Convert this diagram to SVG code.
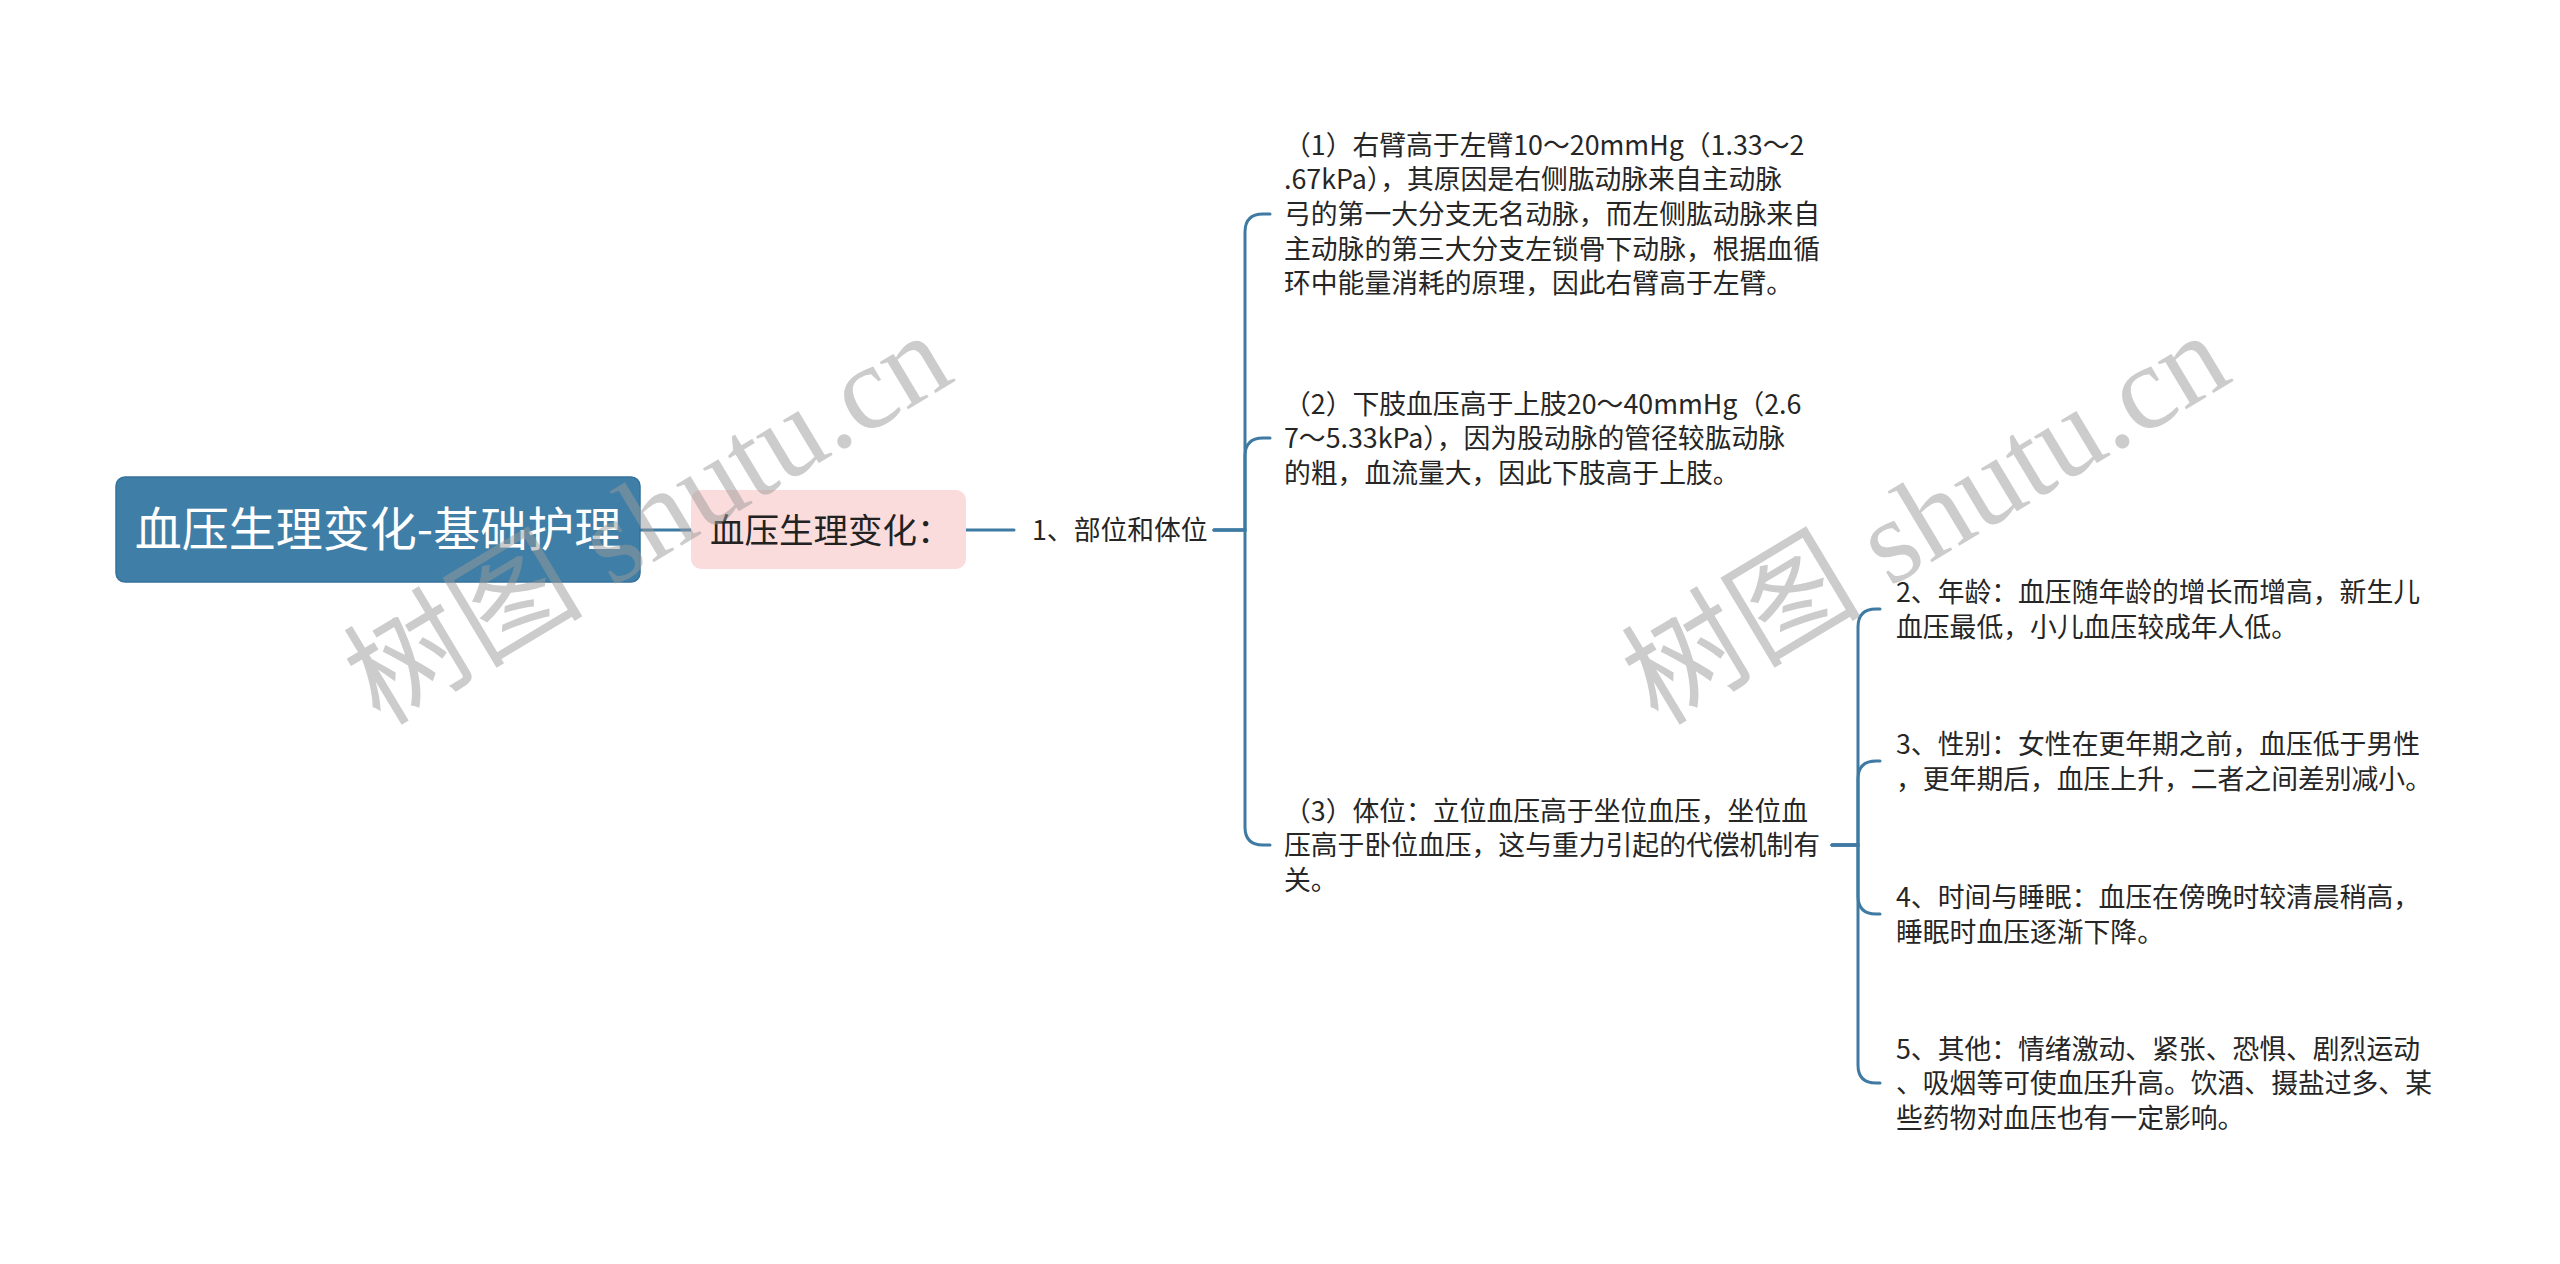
<svg xmlns="http://www.w3.org/2000/svg" width="2560" height="1264" viewBox="0 0 2560 1264">
<style>
.t{font-family:"Noto Sans CJK SC","Liberation Sans",sans-serif;fill:#262626;font-size:26.8px}
.c{fill:none;stroke:#3f7aa3;stroke-width:3;stroke-linecap:round}
.wm{font-family:"Liberation Serif","Noto Sans CJK SC",serif;font-size:120px;fill:#9a9a9a;opacity:0.5}
</style>
<rect width="2560" height="1264" fill="#ffffff"/>
<g id="connectors">
<path class="c" d="M640 530 H691"/>
<path class="c" d="M966 530 H1014"/>
<path class="c" d="M1214 530 H1245 V232 Q1245 214 1263 214 H1270"/>
<path class="c" d="M1214 530 H1245 V456 Q1245 438 1263 438 H1270"/>
<path class="c" d="M1214 530 H1245 V827 Q1245 845 1263 845 H1270"/>
<path class="c" d="M1832 845 H1858 V627 Q1858 609 1876 609 H1880"/>
<path class="c" d="M1832 845 H1858 V779 Q1858 761 1876 761 H1880"/>
<path class="c" d="M1832 845 H1858 V896 Q1858 914 1876 914 H1880"/>
<path class="c" d="M1832 845 H1858 V1065 Q1858 1083 1876 1083 H1880"/>
</g>
<g id="root">
<rect x="116" y="477" width="524" height="105" rx="9" fill="#3f7ea7" stroke="#37729a" stroke-width="1.5"/>
<text x="378" y="546" text-anchor="middle" style="font-family:'Noto Sans CJK SC',sans-serif;font-size:47px;fill:#ffffff">血压生理变化-基础护理</text>
</g>
<g id="n1">
<rect x="691" y="490" width="275" height="79" rx="10" fill="#fbdcdc"/>
<text x="710" y="543" style="font-family:'Noto Sans CJK SC',sans-serif;font-size:34.5px;fill:#222">血压生理变化：</text>
</g>
<g id="n2">
<text class="t" x="1032" y="540">1、部位和体位</text>
</g>
<g id="n3">
<text class="t"><tspan x="1284" y="154.6">（1）右臂高于左臂10～20mmHg（1.33～2</tspan><tspan x="1284" y="189.3">.67kPa），其原因是右侧肱动脉来自主动脉</tspan><tspan x="1284" y="224">弓的第一大分支无名动脉，而左侧肱动脉来自</tspan><tspan x="1284" y="258.7">主动脉的第三大分支左锁骨下动脉，根据血循</tspan><tspan x="1284" y="293.4">环中能量消耗的原理，因此右臂高于左臂。</tspan></text>
</g>
<g id="n4">
<text class="t"><tspan x="1284" y="413.5">（2）下肢血压高于上肢20～40mmHg（2.6</tspan><tspan x="1284" y="448.2">7～5.33kPa），因为股动脉的管径较肱动脉</tspan><tspan x="1284" y="482.9">的粗，血流量大，因此下肢高于上肢。</tspan></text>
</g>
<g id="n5">
<text class="t"><tspan x="1284" y="820.5">（3）体位：立位血压高于坐位血压，坐位血</tspan><tspan x="1284" y="855.2">压高于卧位血压，这与重力引起的代偿机制有</tspan><tspan x="1284" y="889.9">关。</tspan></text>
</g>
<g id="n6">
<text class="t"><tspan x="1896" y="601.8">2、年龄：血压随年龄的增长而增高，新生儿</tspan><tspan x="1896" y="636.5">血压最低，小儿血压较成年人低。</tspan></text>
</g>
<g id="n7">
<text class="t"><tspan x="1896" y="753.8">3、性别：女性在更年期之前，血压低于男性</tspan><tspan x="1896" y="788.5">，更年期后，血压上升，二者之间差别减小。</tspan></text>
</g>
<g id="n8">
<text class="t"><tspan x="1896" y="906.8">4、时间与睡眠：血压在傍晚时较清晨稍高，</tspan><tspan x="1896" y="941.5">睡眠时血压逐渐下降。</tspan></text>
</g>
<g id="n9">
<text class="t"><tspan x="1896" y="1058.5">5、其他：情绪激动、紧张、恐惧、剧烈运动</tspan><tspan x="1896" y="1093.2">、吸烟等可使血压升高。饮酒、摄盐过多、某</tspan><tspan x="1896" y="1127.9">些药物对血压也有一定影响。</tspan></text>
</g>
<g id="watermarks">
<text class="wm" x="0" y="40" text-anchor="middle" transform="translate(648 519) rotate(-31)">树图 shutu.cn</text>
<text class="wm" x="0" y="40" text-anchor="middle" transform="translate(1926 519) rotate(-31)">树图 shutu.cn</text>
</g>
</svg>
